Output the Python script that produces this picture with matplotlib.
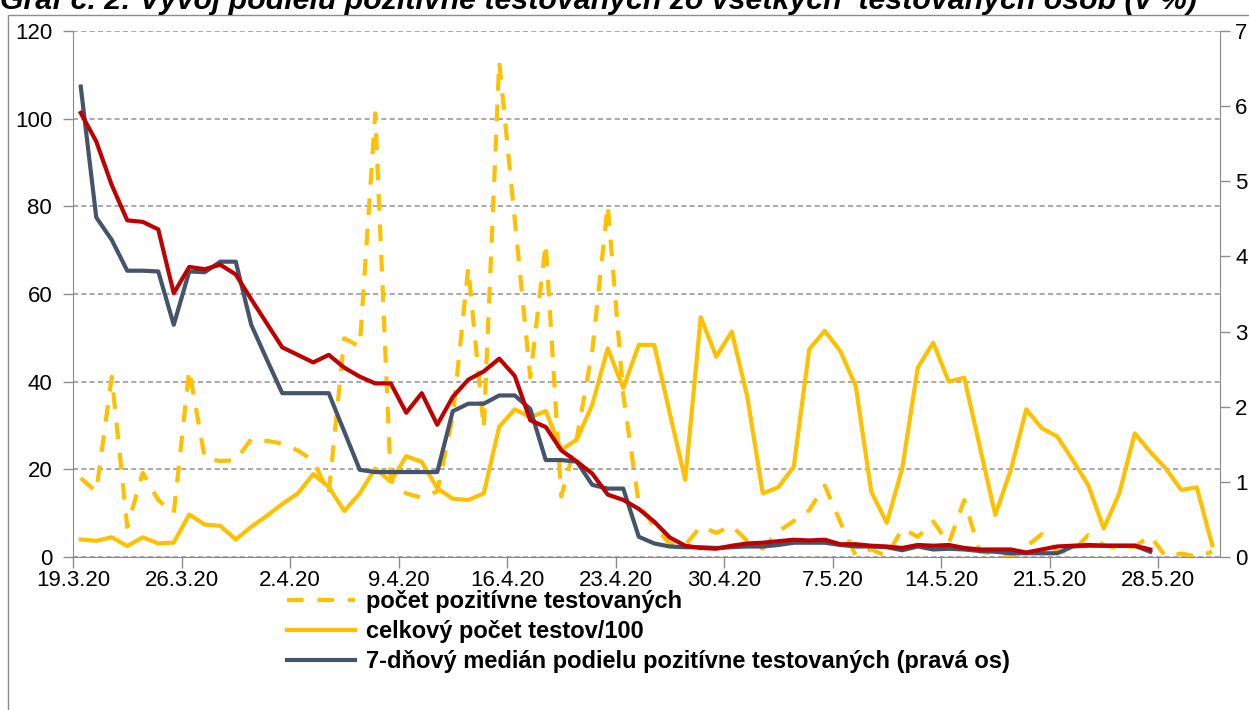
import numpy as np
import matplotlib.pyplot as plt
from matplotlib.patches import Rectangle

plt.rcParams['font.family'] = ['Liberation Sans', 'DejaVu Sans']

# ---------------------------------------------------------------
# Dáta (19.3.2020 - 31.5.2020, denne)
# ---------------------------------------------------------------
tick_labels = ["19.3.20", "26.3.20", "2.4.20", "9.4.20", "16.4.20", "23.4.20",
               "30.4.20", "7.5.20", "14.5.20", "21.5.20", "28.5.20"]

# počet pozitívne testovaných (ľavá os)
positives = [18.0, 14.9, 41.1, 6.9, 19.2, 13.0, 10.0, 42.7, 22.5, 21.9,
             22.1, 26.9, 26.5, 25.9, 24.3, 22.0, 14.5, 49.9, 48.0, 101.2,
             17.5, 14.5, 13.5, 15.0, 32.0, 66.0, 29.4, 113.0, 77.0, 41.0,
             71.5, 13.8, 27.0, 47.0, 80.3, 37.0, 12.2, 6.9, 3.1, 2.7,
             7.0, 5.5, 7.1, 3.7, 1.9, 5.8, 8.2, 10.7, 16.3, 8.0,
             0.3, 1.8, 0.1, 6.5, 4.6, 8.1, 3.1, 13.0, 1.2, 0.8,
             0.1, 2.4, 5.2, 1.2, 1.2, 5.0, 2.7, 2.0, 2.4, 4.8,
             0.1, 0.8, 0.1, 1.2]

# celkový počet testov / 100 (ľavá os)
tests_100 = [4.0, 3.7, 4.5, 2.5, 4.5, 3.1, 3.3, 9.7, 7.4, 7.1,
             4.0, 6.9, 9.4, 12.1, 14.5, 18.9, 16.0, 10.5, 14.5, 20.2,
             17.2, 23.0, 21.7, 15.7, 13.3, 13.0, 14.5, 29.7, 33.7, 31.9,
             33.3, 24.4, 26.8, 34.7, 47.6, 38.5, 48.4, 48.4, 32.8, 17.6,
             54.7, 45.7, 51.4, 36.6, 14.5, 15.9, 20.6, 47.4, 51.6, 47.0,
             39.0, 14.9, 7.8, 20.2, 43.2, 48.9, 40.0, 40.9, 25.2, 9.6,
             19.8, 33.7, 29.4, 27.5, 22.1, 16.4, 6.5, 14.5, 28.2, 24.0,
             20.2, 15.3, 15.9, 2.7]

# 7-dňový medián podielu pozitívne testovaných (pravá os, %)
median7 = [6.26, 4.52, 4.22, 3.81, 3.81, 3.80, 3.09, 3.80, 3.79, 3.93,
           3.93, 3.09, 2.63, 2.18, 2.18, 2.18, 2.18, 1.67, 1.16, 1.13,
           1.13, 1.13, 1.13, 1.13, 1.94, 2.04, 2.04, 2.15, 2.15, 1.97,
           1.29, 1.29, 1.27, 0.96, 0.91, 0.91, 0.27, 0.18, 0.14, 0.13,
           0.13, 0.12, 0.13, 0.14, 0.14, 0.16, 0.19, 0.19, 0.19, 0.16,
           0.14, 0.14, 0.13, 0.09, 0.14, 0.10, 0.11, 0.10, 0.08, 0.07,
           0.05, 0.05, 0.05, 0.05, 0.14, 0.15, 0.15, 0.15, 0.15, 0.07]

# podiel pozitívne testovaných - červená (pravá os, %)
share_red = [5.91, 5.53, 4.95, 4.48, 4.46, 4.36, 3.51, 3.86, 3.83, 3.89,
             3.76, 3.43, 3.11, 2.79, 2.69, 2.59, 2.69, 2.52, 2.40, 2.31,
             2.31, 1.92, 2.18, 1.76, 2.13, 2.36, 2.47, 2.64, 2.41, 1.82,
             1.73, 1.42, 1.27, 1.11, 0.83, 0.76, 0.64, 0.47, 0.26, 0.15,
             0.12, 0.11, 0.15, 0.18, 0.19, 0.21, 0.23, 0.22, 0.23, 0.17,
             0.17, 0.15, 0.14, 0.12, 0.16, 0.15, 0.16, 0.12, 0.10, 0.10,
             0.10, 0.06, 0.10, 0.14, 0.15, 0.16, 0.15, 0.15, 0.15, 0.10]

# Farby
YELLOW = "#FFC000"
NAVY = "#44546A"
RED = "#C00000"
GRAY = "#8C8C8C"

W, H = 1249, 710
fig = plt.figure(figsize=(W / 100, H / 100), dpi=100)
ax = fig.add_axes([73 / W, 1 - 557 / H, (1220 - 73) / W, (557 - 31) / H])
ax2 = ax.twinx()

x = np.arange(len(tests_100))
xm = np.arange(len(median7))

ax.plot(x, positives, color=YELLOW, lw=3, ls=(0, (4, 3.3)),
        label="počet pozitívne testovaných")
ax.plot(x, tests_100, color=YELLOW, lw=3,
        label="celkový počet testov/100")
ax2.plot(xm, median7, color=NAVY, lw=3,
         label="7-dňový medián podielu pozitívne testovaných (pravá os)")
ax2.plot(xm, share_red, color=RED, lw=3)

# ---------------------------------------------------------------
# Osi
# ---------------------------------------------------------------
ax.set_xlim(-0.5, len(tests_100) - 0.5)
ax.set_ylim(0, 120)
ax2.set_ylim(0, 7)
ax.set_xticks(np.arange(len(tick_labels)) * 7 - 0.5)
ax.set_xticklabels(tick_labels)
ax.set_yticks(np.arange(0, 121, 20))
ax2.set_yticks(np.arange(0, 8, 1))

ax.tick_params(axis="y", length=7, width=1, color=GRAY, labelsize=16, pad=8)
ax.tick_params(axis="x", length=8, width=1, color=GRAY, labelsize=16, pad=1)
ax2.tick_params(axis="y", length=7, width=1, color=GRAY, labelsize=16, pad=4)

for s in ["top", "right"]:
    ax.spines[s].set_visible(False)
for s in ["top", "left", "bottom"]:
    ax2.spines[s].set_visible(False)
for s in ["left", "bottom"]:
    ax.spines[s].set_color(GRAY)
ax2.spines["right"].set_color(GRAY)

ax.yaxis.grid(True, ls=(0, (3, 2)), color="#9A9A9A", lw=1.2)
ax.set_axisbelow(True)

# ---------------------------------------------------------------
# Nadpis (orezaný) a rámik
# ---------------------------------------------------------------
fig.text(0, 1 - 9 / H,
         "Graf č. 2: Vývoj podielu pozitívne testovaných zo všetkých  "
         "testovaných osôb (v %)",
         fontsize=21.8, fontweight="bold", fontstyle="italic",
         ha="left", va="baseline")
fig.patches.append(Rectangle((8 / W, -0.1), 1.5, 1.1 - 15 / H,
                             transform=fig.transFigure, fill=False,
                             ec=GRAY, lw=1))

# ---------------------------------------------------------------
# Legenda
# ---------------------------------------------------------------
h1, l1 = ax.get_legend_handles_labels()
h2, l2 = ax2.get_legend_handles_labels()
fig.legend(h1 + h2, l1 + l2, loc="upper left",
           bbox_to_anchor=(287 / W, 1 - 590 / H),
           frameon=False, prop={"size": 17, "weight": "bold"},
           handlelength=2.9, handletextpad=0.45, labelspacing=0.3,
           borderpad=0, borderaxespad=0)

fig.savefig("out.png", dpi=100)
